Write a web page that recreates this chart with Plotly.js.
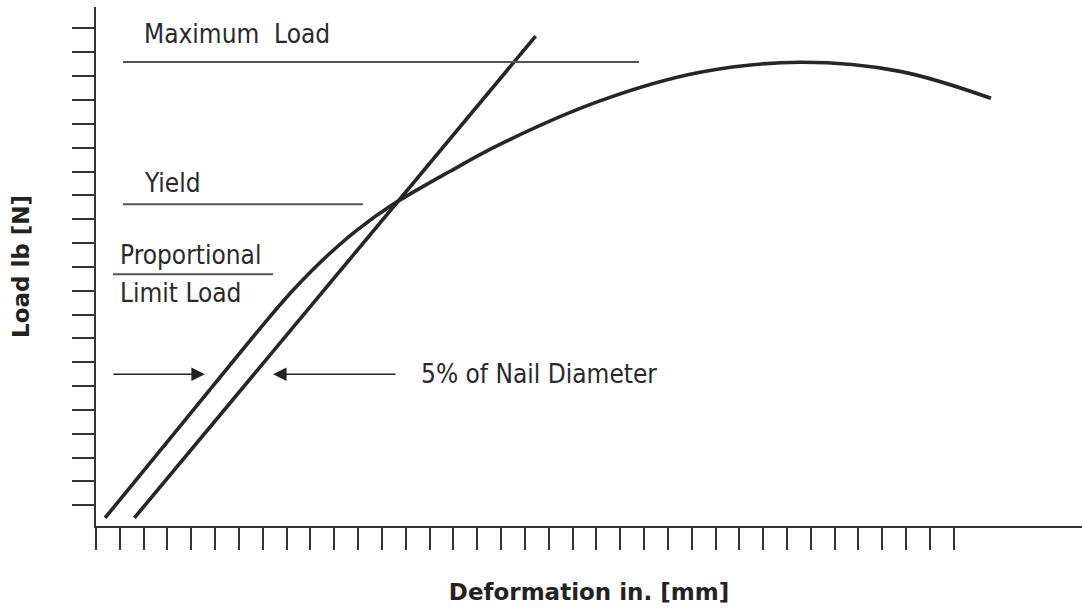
<!DOCTYPE html>
<html>
<head>
<meta charset="utf-8">
<script src="https://cdn.plot.ly/plotly-3.0.1.min.js"></script>
<style>html,body{margin:0;padding:0;background:#fff;}#chart{width:1082px;height:608px;}</style>
</head>
<body>
<div id="chart"></div>
<script>
// Load–deformation curve (grid units: one tick = 1)
const curveX = [0.38, 3.73, 7.09, 8.14, 8.98, 9.82, 10.94, 12.42, 14.86, 16.95, 21.15, 25.35, 29.54, 33.74, 37.56];
const curveY = [0.47, 4.56, 8.66, 9.88, 10.76, 11.57, 12.53, 13.59, 15.01, 16.14, 17.96, 19.16, 19.58, 19.20, 18.07];
// 5% offset line
const offsetX = [1.61, 18.45];
const offsetY = [0.47, 20.68];
// Reference levels
const levelNames = ["Maximum Load", "Yield", "Proportional Limit Load"];
const levelY = [19.59, 13.63, 10.69];
const levelX0 = [1.13, 1.13, 0.71];
const levelX1 = [22.79, 11.20, 7.43];
// Arrows for "5% of Nail Diameter"
const arrowY = 6.50;
const arrowTail = [0.67, 12.63];
const arrowHead = [4.57, 7.43];
// Tick positions (no labels)
const xTicks = [0,1,2,3,4,5,6,7,8,9,10,11,12,13,14,15,16,17,18,19,20,21,22,23,24,25,26,27,28,29,30,31,32,33,34,35,36];
const yTicks = [1,2,3,4,5,6,7,8,9,10,11,12,13,14,15,16,17,18,19,20,21];
// Labels
const labelText = ["Maximum\u00a0 Load", "Yield", "Proportional", "Limit Load", "5% of Nail Diameter"];
const labelX = [2.06, 2.06, 1.05, 1.05, 13.67];
const labelY = [20.76, 14.51, 11.49, 9.92, 6.51];

const lineColor = '#262626';
const textFont = {family: 'DejaVu Sans Condensed, DejaVu Sans, sans-serif', size: 26, color: '#2a2a2a'};

const traces = [
  {x: curveX, y: curveY, mode: 'lines', line: {color: lineColor, width: 3.6, shape: 'spline', smoothing: 1}, hoverinfo: 'skip'},
  {x: offsetX, y: offsetY, mode: 'lines', line: {color: lineColor, width: 3.6}, hoverinfo: 'skip'}
];

const shapes = levelY.map((y, i) => ({
  type: 'line', xref: 'x', yref: 'y', x0: levelX0[i], x1: levelX1[i], y0: y, y1: y,
  line: {color: '#555', width: 2}
}));

const annotations = labelText.map((t, i) => ({
  text: t, x: labelX[i], y: labelY[i], xref: 'x', yref: 'y', xanchor: 'left', yanchor: 'middle',
  xshift: -3, showarrow: false, font: textFont
}));
arrowTail.forEach((tx, i) => {
  annotations.push({
    text: '', x: arrowHead[i], y: arrowY, ax: tx, ay: arrowY, xref: 'x', yref: 'y', axref: 'x', ayref: 'y',
    showarrow: true, arrowhead: 2, arrowsize: 1.8, arrowwidth: 1.5, arrowcolor: '#222', standoff: 0
  });
});

const axisCommon = {
  showgrid: false, zeroline: false, showline: true, linecolor: '#333', linewidth: 2,
  ticks: 'outside', ticklen: 22, tickwidth: 2, tickcolor: '#333', showticklabels: false,
  tickmode: 'array', fixedrange: true
};

const titleFont = {family: 'DejaVu Sans', size: 23, color: '#222', weight: 'bold'};

const layout = {
  width: 1082, height: 608,
  margin: {l: 96, r: 0, t: 7, b: 82},
  paper_bgcolor: '#fff', plot_bgcolor: '#fff',
  showlegend: false,
  xaxis: Object.assign({}, axisCommon, {
    range: [0, 41.38], tickvals: xTicks,
    title: {text: 'Deformation in. [mm]', font: titleFont, standoff: 35}
  }),
  yaxis: Object.assign({}, axisCommon, {
    range: [0.13, 21.9], tickvals: yTicks,
    title: {text: 'Load lb [N]', font: titleFont, standoff: 36}
  }),
  shapes: shapes,
  annotations: annotations
};

Plotly.newPlot('chart', traces, layout, {displayModeBar: false, staticPlot: true});
</script>
</body>
</html>
